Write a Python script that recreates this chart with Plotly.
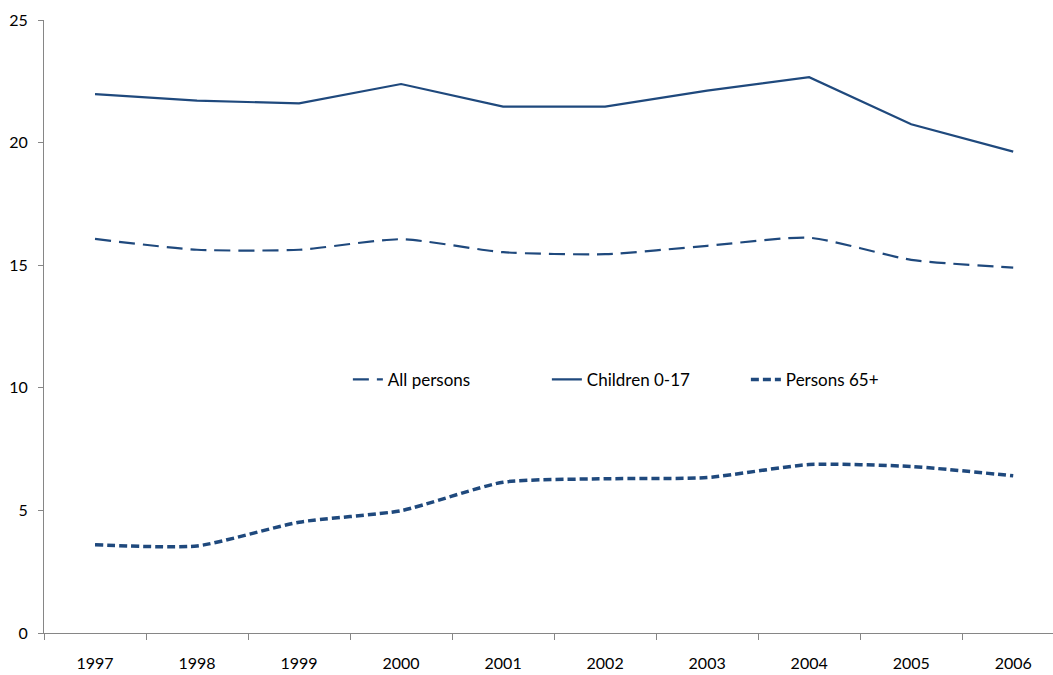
import plotly.graph_objects as go

years = ["1997", "1998", "1999", "2000", "2001", "2002", "2003", "2004", "2005", "2006"]
all_persons = [16.07, 15.63, 15.63, 16.06, 15.53, 15.45, 15.79, 16.12, 15.22, 14.90]
children = [21.98, 21.71, 21.60, 22.39, 21.47, 21.47, 22.12, 22.67, 20.75, 19.63]
persons65 = [3.60, 3.55, 4.52, 4.99, 6.15, 6.29, 6.34, 6.87, 6.79, 6.41]

color = "rgb(31,73,125)"
font_family = "Lato, 'Open Sans', sans-serif"

fig = go.Figure()
fig.add_trace(go.Scatter(
    x=years, y=all_persons, name="All persons", mode="lines",
    line=dict(color=color, width=2.2, dash="16px,8px", shape="spline", smoothing=0.6),
))
fig.add_trace(go.Scatter(
    x=years, y=children, name="Children 0-17", mode="lines",
    line=dict(color=color, width=2.2),
))
fig.add_trace(go.Scatter(
    x=years, y=persons65, name="Persons 65+", mode="lines",
    line=dict(color=color, width=3.5, dash="8px,4px", shape="spline", smoothing=0.6),
))

fig.update_layout(
    width=1053, height=675,
    margin=dict(l=44, r=0, t=20, b=42),
    paper_bgcolor="white", plot_bgcolor="white",
    font=dict(family=font_family, size=16, color="black"),
    showlegend=True,
    legend=dict(
        orientation="h", x=0.597, xanchor="center", y=0.413, yanchor="middle",
        bgcolor="rgba(0,0,0,0)", font=dict(size=17),
        entrywidth=154, entrywidthmode="pixels",
    ),
)
fig.update_xaxes(
    type="category", range=[-0.5, 9.39],
    showline=True, linecolor="#868686", linewidth=1,
    ticks="outside", tickson="boundaries", ticklen=6, tickcolor="#868686",
    showgrid=False, zeroline=False, tickfont=dict(size=16),
    ticklabelstandoff=16,
)
fig.update_yaxes(
    range=[0, 25], dtick=5, tick0=0,
    showline=True, linecolor="#868686", linewidth=1,
    ticks="outside", ticklen=5, tickcolor="#868686",
    showgrid=False, zeroline=False, tickfont=dict(size=16),
    ticklabelstandoff=7,
)

fig.write_html("out.html")
